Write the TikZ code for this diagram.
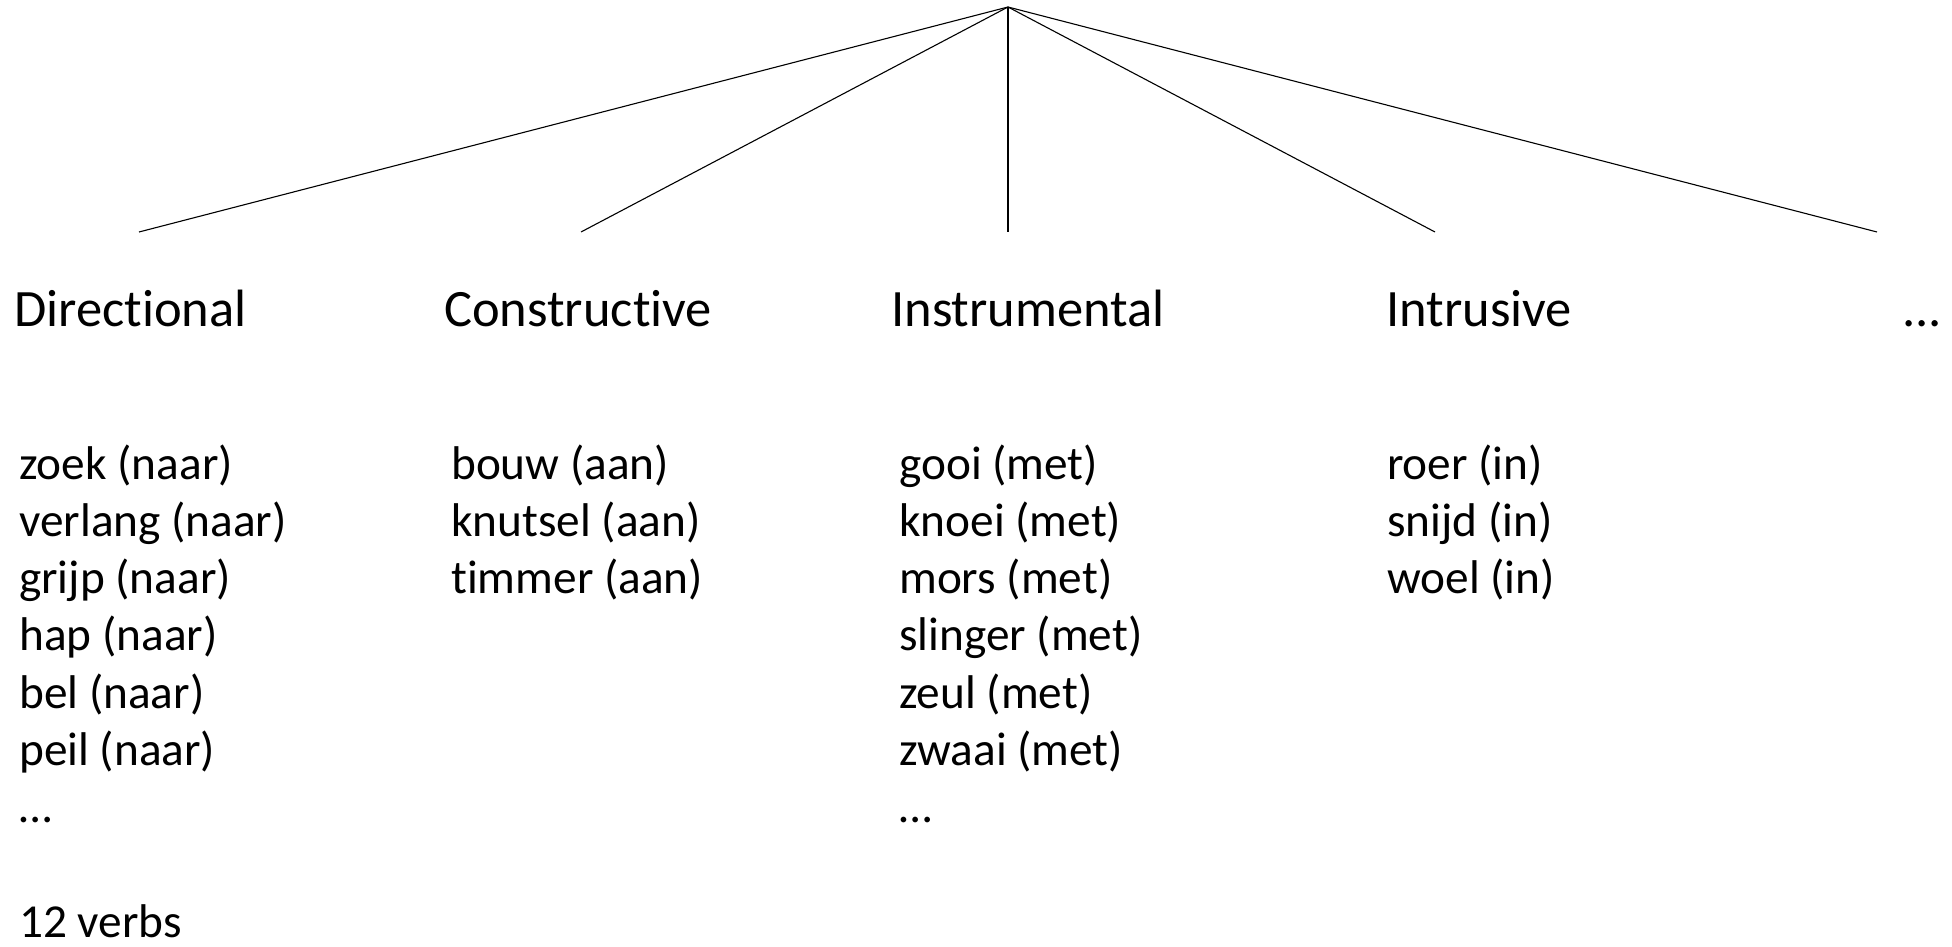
\documentclass[tikz,border=0pt]{standalone}
\usepackage{fontspec}
\setmainfont{Carlito}[Ligatures=NoCommon]
\begin{document}
\begin{tikzpicture}[x=1pt,y=-1pt,
  edge/.style={line width=1.1pt,black},
  head/.style={anchor=base west,inner sep=0pt,font=\fontsize{52.5}{62}\selectfont},
  item/.style={anchor=base west,inner sep=0pt,font=\fontsize{47.3}{57}\selectfont}]
\useasboundingbox (0,0) rectangle (1952,947);
\coordinate (top) at (1008,7);
\coordinate (e1) at (139,232);
\coordinate (e2) at (581,232);
\coordinate (e3) at (1008,232);
\coordinate (e4) at (1435,232);
\coordinate (e5) at (1877,232);
\foreach \i in {1,...,5} \draw[edge] (top) -- (e\i);
\node[head] (h1) at (14,326) {Directional};
\node[head] (h2) at (444,326) {Constructive};
\node[head] (h3) at (891,326) {Instrumental};
\node[head] (h4) at (1386,326) {Intrusive};
\node[head,anchor=base east] (h5) at (1942,326) {...};
\foreach \t [count=\k] in {zoek (naar),verlang (naar),grijp (naar),hap (naar),bel (naar),peil (naar),\dots}
  \node[item] (a\k) at (19,{479+57.3*(\k-1)}) {\t};
\node[item] (a9) at (19,{479+57.3*8}) {12 verbs};
\foreach \t [count=\k] in {bouw (aan),knutsel (aan),timmer (aan)}
  \node[item] (b\k) at (451,{479+57.3*(\k-1)}) {\t};
\foreach \t [count=\k] in {gooi (met),knoei (met),mors (met),slinger (met),zeul (met),zwaai (met),\dots}
  \node[item] (c\k) at (899,{479+57.3*(\k-1)}) {\t};
\foreach \t [count=\k] in {roer (in),snijd (in),woel (in)}
  \node[item] (d\k) at (1387,{479+57.3*(\k-1)}) {\t};
\end{tikzpicture}
\end{document}
